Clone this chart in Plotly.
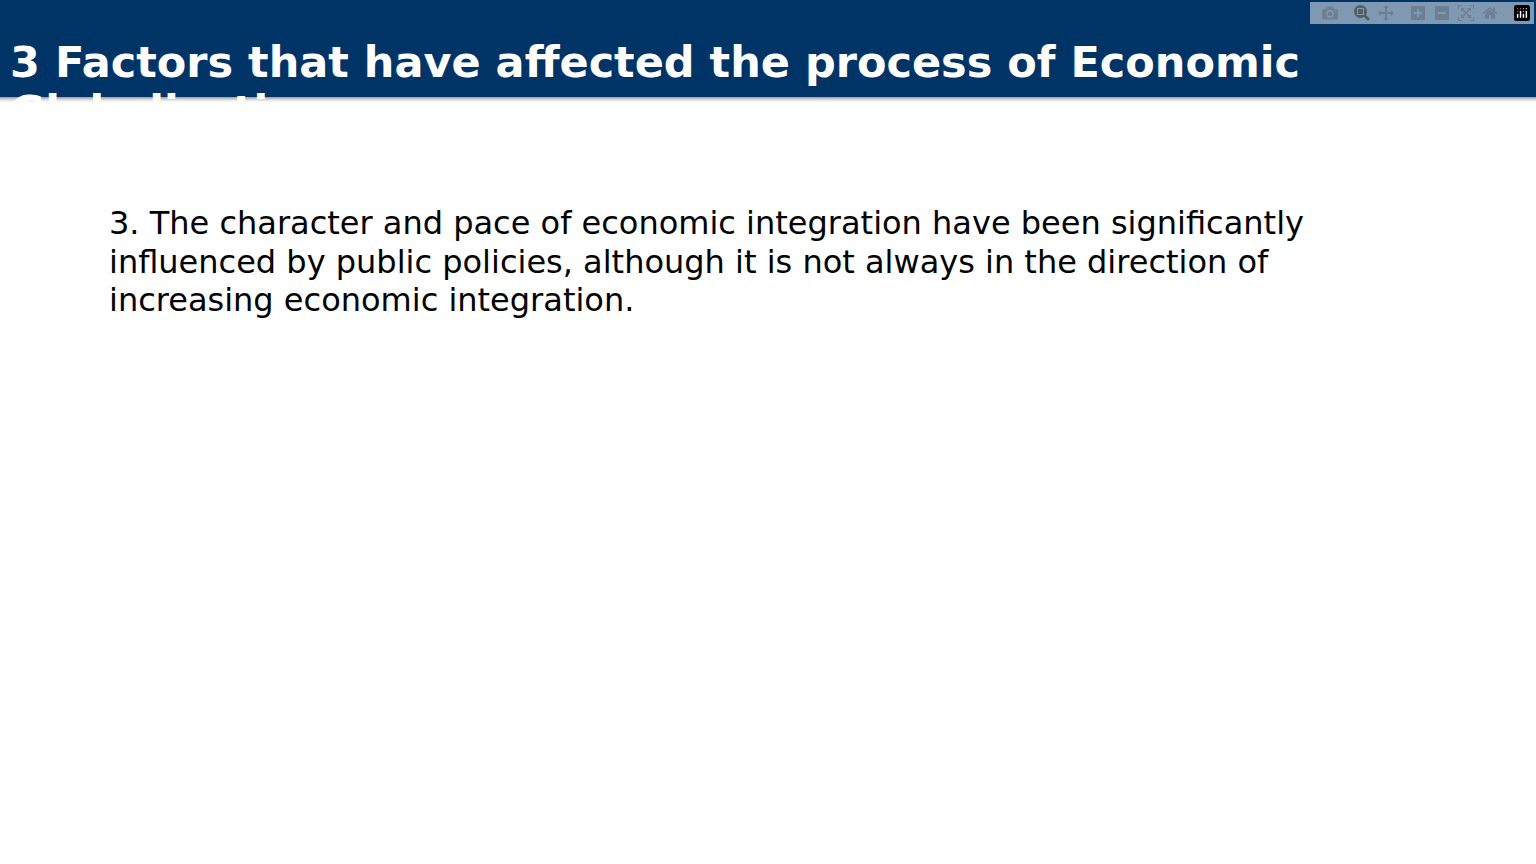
import plotly.graph_objects as go

W, H = 1536, 864
title_lines = ["3 Factors that have affected the process of Economic", "Globalization"]
body_lines = [
    "3. The character and pace of economic integration have been significantly",
    "influenced by public policies, although it is not always in the direction of",
    "increasing economic integration.",
]


def py(px):
    # pixel from top -> paper y
    return 1 - px / H


fig = go.Figure()

shapes = [dict(type="rect", xref="paper", yref="paper", x0=0, x1=1, y0=py(97), y1=1,
               fillcolor="#003366", line_width=0, layer="below")]
# soft shadow under the header
for i, op in enumerate([0.35, 0.25, 0.16, 0.09, 0.04]):
    shapes.append(dict(type="rect", xref="paper", yref="paper", x0=0, x1=1,
                       y0=py(98 + i), y1=py(97 + i), fillcolor="rgba(0,0,0,%s)" % op,
                       line_width=0, layer="below"))

for i, line in enumerate(title_lines):
    fig.add_annotation(text="<b>" + line + "</b>", xref="paper", yref="paper",
                       x=8 / W, y=py(35 + 49 * i), xanchor="left", yanchor="top",
                       showarrow=False, font=dict(family="DejaVu Sans", size=43, color="white"))

for i, line in enumerate(body_lines):
    fig.add_annotation(text=line, xref="paper", yref="paper",
                       x=107 / W, y=py(202 + 38.5 * i), xanchor="left", yanchor="top",
                       showarrow=False, font=dict(family="DejaVu Sans", size=32, color="black"))

fig.update_layout(width=W, height=H, margin=dict(l=0, r=0, t=0, b=0),
                  paper_bgcolor="white", plot_bgcolor="white", shapes=shapes,
                  xaxis=dict(visible=False), yaxis=dict(visible=False))
fig.write_html("out.html", post_script="document.body.style.margin='0';")
